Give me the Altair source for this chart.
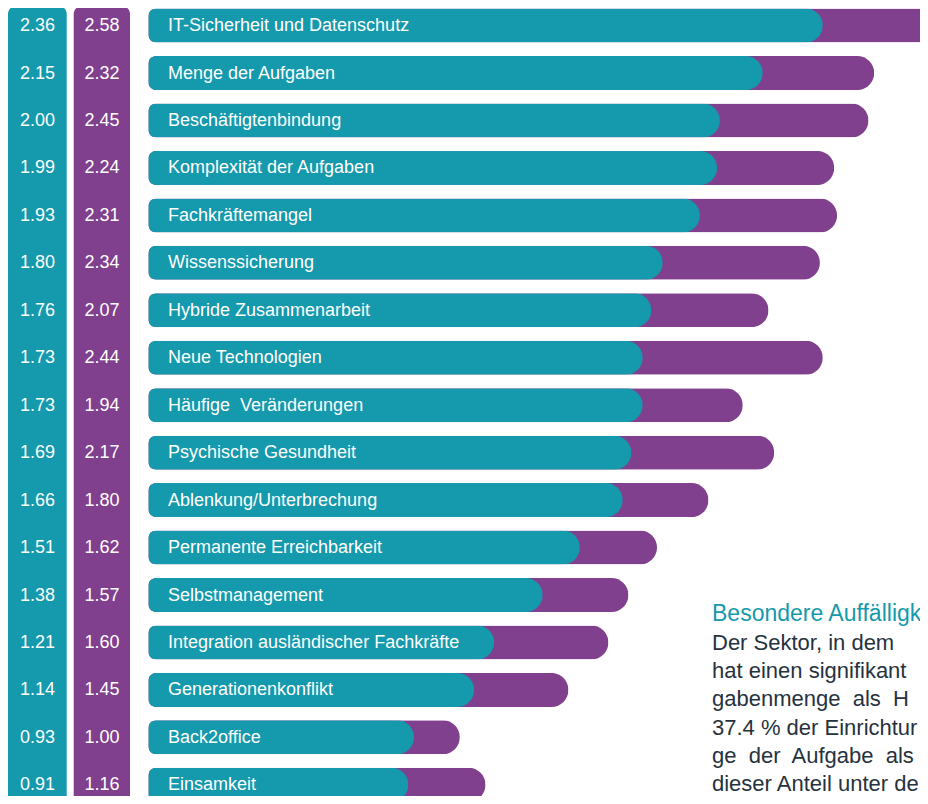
import altair as alt
import pandas as pd

# ---------------- data ----------------
categories = [
    "IT-Sicherheit und Datenschutz",
    "Menge der Aufgaben",
    "Beschäftigtenbindung",
    "Komplexität der Aufgaben",
    "Fachkräftemangel",
    "Wissenssicherung",
    "Hybride Zusammenarbeit",
    "Neue Technologien",
    "Häufige\u00a0 Veränderungen",
    "Psychische Gesundheit",
    "Ablenkung/Unterbrechung",
    "Permanente Erreichbarkeit",
    "Selbstmanagement",
    "Integration ausländischer Fachkräfte",
    "Generationenkonflikt",
    "Back2office",
    "Einsamkeit",
]
teal_values = [2.36, 2.15, 2.00, 1.99, 1.93, 1.80, 1.76, 1.73, 1.73, 1.69,
               1.66, 1.51, 1.38, 1.21, 1.14, 0.93, 0.91]
purple_values = [2.58, 2.32, 2.45, 2.24, 2.31, 2.34, 2.07, 2.44, 1.94, 2.17,
                 1.80, 1.62, 1.57, 1.60, 1.45, 1.00, 1.16]
# lengths of the purple bars as drawn in the picture (same scale as teal)
purple_bar_lengths = [2.85, 2.54, 2.52, 2.40, 2.41, 2.35, 2.17, 2.36, 2.08, 2.19,
                      1.96, 1.78, 1.68, 1.61, 1.47, 1.09, 1.18]

note_title = "Besondere Auffälligk"
note_lines = [
    "Der Sektor, in dem",
    "hat einen signifikant",
    "gabenmenge\u00a0 als\u00a0 H",
    "37.4 % der Einrichtur",
    "ge\u00a0 der\u00a0 Aufgabe\u00a0 als",
    "dieser Anteil unter de",
]

# ---------------- style ----------------
TEAL = "#1599AC"
PURPLE = "#80408E"
TEXT_DARK = "#26323D"
FONT = "Liberation Sans"

df = pd.DataFrame({
    "category": categories,
    "teal": teal_values,
    "purple": purple_values,
    "purple_bar": purple_bar_lengths,
})

n = len(categories)
step = 47.45
first_center = 17.6
y0 = first_center - step / 2
pad = 1 - 34 / step
y_scale = alt.Scale(domain=categories, range=[y0, y0 + n * step],
                    paddingInner=pad, paddingOuter=pad / 2)
x0 = 140.3
px_per_unit = 285.8
x_scale = alt.Scale(domain=[0, 2.9], range=[x0, x0 + 2.9 * px_per_unit],
                    nice=False, zero=True)

Y = alt.Y("category:N", scale=y_scale, axis=None)

one = alt.Data(values=[{"a": 1}])

teal_col = alt.Chart(one).mark_rect(color=TEAL, cornerRadius=8).encode(
    x=alt.value(0), x2=alt.value(58.7), y=alt.value(-2), y2=alt.value(840)
)
purple_col = alt.Chart(one).mark_rect(color=PURPLE, cornerRadius=8).encode(
    x=alt.value(65.7), x2=alt.value(122), y=alt.value(-2), y2=alt.value(840)
)

base = alt.Chart(df)

bar_style = dict(cornerRadiusTopLeft=8, cornerRadiusBottomLeft=8,
                 cornerRadiusTopRight=17, cornerRadiusBottomRight=17)

purple_bars = base.mark_bar(color=PURPLE, **bar_style).encode(
    x=alt.X("purple_bar:Q", scale=x_scale, axis=None),
    y=Y,
)
teal_bars = base.mark_bar(color=TEAL, **bar_style).encode(
    x=alt.X("teal:Q", scale=x_scale, axis=None),
    y=Y,
)
labels = base.mark_text(align="left", baseline="middle", color="white",
                        font=FONT, fontSize=18, dx=19.7, dy=0.5).encode(
    x=alt.XDatum(0),
    y=Y,
    text="category:N",
)
teal_text = base.mark_text(align="center", baseline="middle", color="white",
                           font=FONT, fontSize=18, dy=0.5).encode(
    x=alt.value(29.4),
    y=Y,
    text=alt.Text("teal:Q", format=".2f"),
)
purple_text = base.mark_text(align="center", baseline="middle", color="white",
                             font=FONT, fontSize=18, dy=0.5).encode(
    x=alt.value(93.9),
    y=Y,
    text=alt.Text("purple:Q", format=".2f"),
)

note_layers = [
    alt.Chart(one).mark_text(align="left", baseline="alphabetic", color=TEAL,
                             font=FONT, fontSize=23).encode(
        x=alt.value(704), y=alt.value(613), text=alt.value(note_title)
    )
]
for i, line in enumerate(note_lines):
    note_layers.append(
        alt.Chart(one).mark_text(align="left", baseline="alphabetic",
                                 color=TEXT_DARK, font=FONT, fontSize=22).encode(
            x=alt.value(704), y=alt.value(642 + i * 28.2), text=alt.value(line)
        )
    )

chart = alt.layer(
    teal_col, purple_col, purple_bars, teal_bars, labels, teal_text, purple_text,
    *note_layers
).properties(
    width=912, height=788,
    autosize=alt.AutoSizeParams(type="none"),
    padding=0,
).configure_view(stroke=None)

chart.save("out.html", embed_options={"renderer": "svg", "actions": False})
